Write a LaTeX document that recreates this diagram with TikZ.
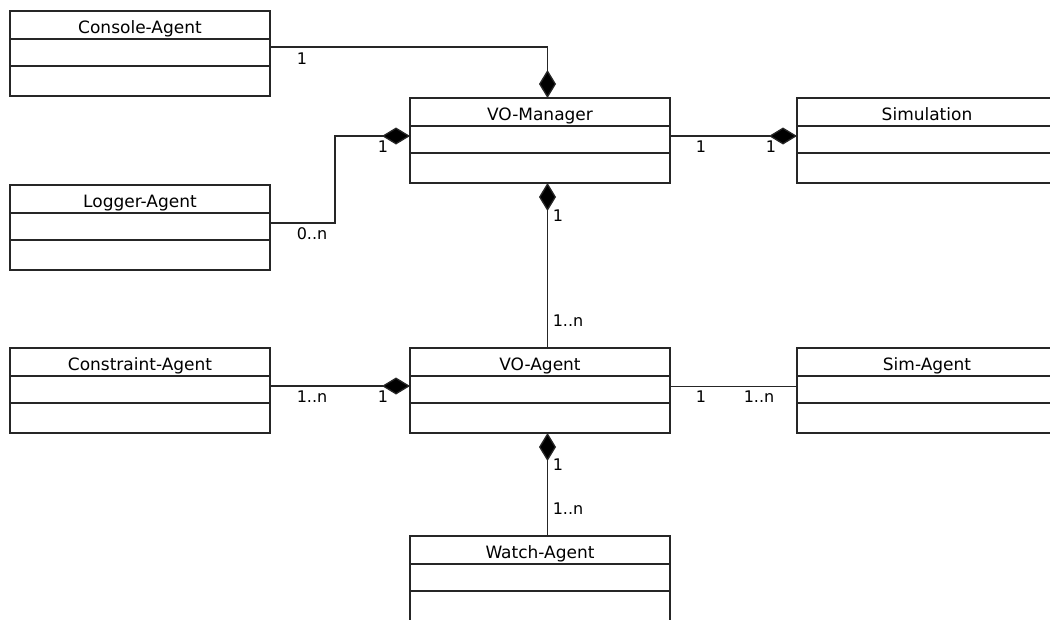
\documentclass[tikz,border=0pt]{standalone}
\usepackage{fontspec}
\setmainfont{DejaVu Sans}
\usetikzlibrary{arrows.meta}
\tikzset{
  cls/.style={draw=black!85, line width=1.3pt, minimum width=260pt, minimum height=85pt, inner sep=0pt, outer sep=0pt},
  divider/.style={draw=black!85, line width=1.3pt},
  cname/.style={anchor=base, inner sep=0pt, font=\fontsize{17}{20}\selectfont},
  lbl/.style={inner sep=0pt, font=\fontsize{16}{19}\selectfont},
  comp/.style={draw=black!85, line width=1.3pt, -{Diamond[length=28pt,width=17pt,fill=black]}},
  assoc/.style={draw=black!85, line width=1.3pt}
}
\newcommand\umlclass[4]{%
  \node[cls, anchor=north west] (#1) at (#2,#3) {};
  \draw[divider] ([yshift=-28pt]#1.north west) -- ([yshift=-28pt]#1.north east);
  \draw[divider] ([yshift=-55pt]#1.north west) -- ([yshift=-55pt]#1.north east);
  \node[cname] (#1-t) at ([yshift=-22pt]#1.north) {#4};
}
\begin{document}
\begin{tikzpicture}[x=1pt,y=-1pt]
\useasboundingbox[fill=white] (0,0) rectangle (1050,619);
\clip (0,0) rectangle (1050,619);
\umlclass{con}{10}{11}{Console-Agent}
\umlclass{log}{10}{185}{Logger-Agent}
\umlclass{vom}{410}{98}{VO-Manager}
\umlclass{sim}{797}{98}{Simulation}
\umlclass{cns}{10}{348}{Constraint-Agent}
\umlclass{voa}{410}{348}{VO-Agent}
\umlclass{sag}{797}{348}{Sim-Agent}
\umlclass{wat}{410}{536}{Watch-Agent}
% connectors
\draw[comp] ([yshift=6.5pt]con.east) -| ([xshift=7.5pt]vom.north);
\draw[comp] ([yshift=4.5pt]log.east) -- ++(65,0) |- ([yshift=4.5pt]vom.west);
\draw[comp] ([yshift=4.5pt]vom.east) -- ([yshift=4.5pt]sim.west);
\draw[comp] ([xshift=7.5pt]voa.north) -- ([xshift=7.5pt]vom.south);
\draw[comp] ([yshift=4.5pt]cns.east) -- ([yshift=4.5pt]voa.west);
\draw[assoc] ([yshift=4pt]voa.east) -- ([yshift=4pt]sag.west);
\draw[comp] ([xshift=7.5pt]wat.north) -- ([xshift=7.5pt]voa.south);
% multiplicities
\node[lbl] (m1) at (302,59) {1};
\node[lbl] (m2) at (383,147) {1};
\node[lbl] (m3) at (312,234) {0..n};
\node[lbl] (m4) at (701,147) {1};
\node[lbl] (m5) at (771,147) {1};
\node[lbl] (m6) at (558,216) {1};
\node[lbl] (m7) at (568,321) {1..n};
\node[lbl] (m8) at (312,397) {1..n};
\node[lbl] (m9) at (383,397) {1};
\node[lbl] (m10) at (701,397) {1};
\node[lbl] (m11) at (759,397) {1..n};
\node[lbl] (m12) at (558,465) {1};
\node[lbl] (m13) at (568,509) {1..n};
\end{tikzpicture}
\end{document}
